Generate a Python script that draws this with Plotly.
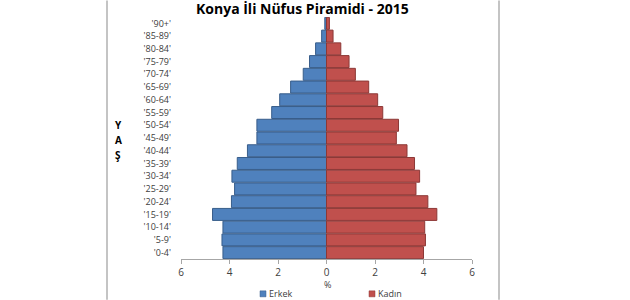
import plotly.graph_objects as go

age_groups = ["'0-4'", "'5-9'", "'10-14'", "'15-19'", "'20-24'", "'25-29'", "'30-34'",
              "'35-39'", "'40-44'", "'45-49'", "'50-54'", "'55-59'", "'60-64'",
              "'65-69'", "'70-74'", "'75-79'", "'80-84'", "'85-89'", "'90+'"]
erkek = [4.27, 4.31, 4.27, 4.70, 3.92, 3.79, 3.90, 3.68, 3.26, 2.87, 2.87,
         2.26, 1.93, 1.48, 0.96, 0.70, 0.45, 0.20, 0.07]
kadin = [4.00, 4.08, 4.05, 4.55, 4.18, 3.69, 3.84, 3.63, 3.32, 2.88, 2.97,
         2.32, 2.11, 1.74, 1.19, 0.93, 0.59, 0.27, 0.12]
x_ticks = [-6, -4, -2, 0, 2, 4, 6]
x_tick_text = ["6", "4", "2", "0", "2", "4", "6"]

W, H = 630, 300
L, R, T, B = 181, 158, 16.6, 40.9
pw, ph = W - L - R, H - T - B

def px_x(x):
    return (x - L) / pw

def px_y(y):
    return (H - B - y) / ph

blue, blue_line = "#4F81BD", "#385D8A"
red, red_line = "#C0504D", "#8C3836"
font = "Open Sans"

fig = go.Figure()
fig.add_trace(go.Bar(y=age_groups, x=[-v for v in erkek], orientation="h", name="Erkek",
                     marker=dict(color=blue, line=dict(color=blue_line, width=1)),
                     showlegend=False))
fig.add_trace(go.Bar(y=age_groups, x=kadin, orientation="h", name="Kadın",
                     marker=dict(color=red, line=dict(color=red_line, width=1)),
                     showlegend=False))

fig.update_layout(
    width=W, height=H, margin=dict(l=L, r=R, t=T, b=B, autoexpand=False),
    paper_bgcolor="white", plot_bgcolor="white",
    barmode="relative", bargap=0.06,
    font=dict(family=font, size=9, color="#404040"),
    xaxis=dict(range=[-6, 6], tickvals=x_ticks, ticktext=x_tick_text,
               showgrid=False, zeroline=False, showline=True, linecolor="#A6A6A6",
               linewidth=1, ticks="outside", ticklen=4, tickcolor="#A6A6A6",
               tickfont=dict(size=10, color="#404040")),
    yaxis=dict(showgrid=False, zeroline=False, showline=False, ticks="",
               ticklabelstandoff=9, tickfont=dict(size=9, color="#404040")),
)

# x axis title
fig.add_annotation(text="%", xref="paper", yref="paper", x=px_x(327), y=px_y(285),
                   xanchor="center", yanchor="middle", showarrow=False,
                   font=dict(family=font, size=9, color="#404040"))

# title
fig.add_annotation(text="<b>Konya İli Nüfus Piramidi - 2015</b>", xref="paper", yref="paper",
                   x=px_x(302), y=px_y(8), xanchor="center", yanchor="middle",
                   showarrow=False, font=dict(family=font, size=14, color="#000000"))

# vertical axis title Y A Ş
for ch, yy in [("Y", 125), ("A", 140), ("Ş", 155)]:
    fig.add_annotation(text="<b>" + ch + "</b>", xref="paper", yref="paper",
                       x=px_x(118), y=px_y(yy), xanchor="center", yanchor="middle",
                       showarrow=False, font=dict(family=font, size=10, color="#000000"))

# legend
for name, col, lc, x0 in [("Erkek", blue, blue_line, 260), ("Kadın", red, red_line, 369)]:
    fig.add_shape(type="rect", xref="paper", yref="paper",
                  x0=px_x(x0), x1=px_x(x0 + 6), y0=px_y(291), y1=px_y(297),
                  fillcolor=col, line=dict(color=lc, width=0.5))
    fig.add_annotation(text=name, xref="paper", yref="paper", x=px_x(x0 + 7), y=px_y(293.5),
                       xanchor="left", yanchor="middle", showarrow=False,
                       font=dict(family=font, size=9, color="#404040"))

# frame lines
for xl in [107, 499]:
    fig.add_shape(type="line", xref="paper", yref="paper", x0=px_x(xl), x1=px_x(xl),
                  y0=px_y(0), y1=px_y(300), line=dict(color="#B0B0B0", width=1.5))

fig.write_html("out.html")
